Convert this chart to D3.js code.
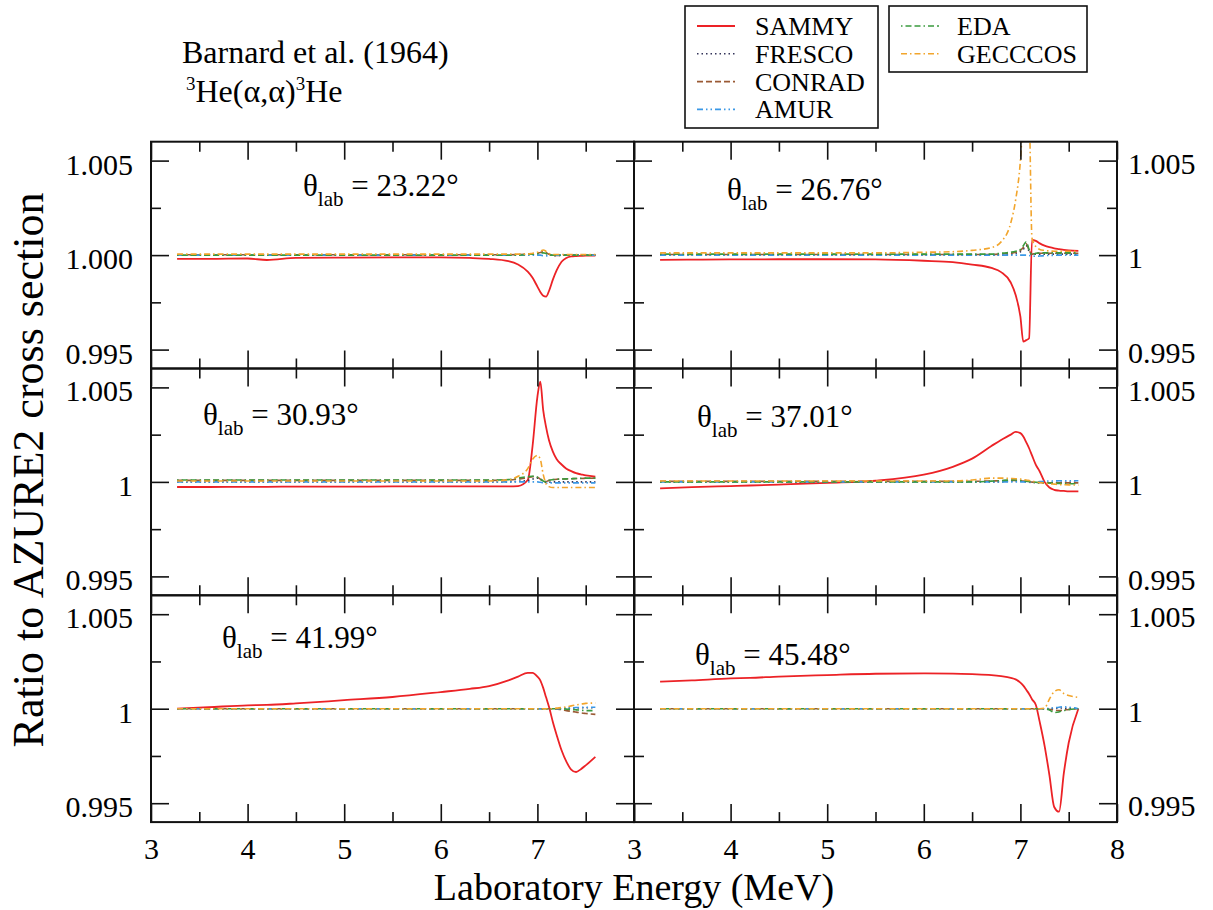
<!DOCTYPE html>
<html lang="en">
<head>
<meta charset="UTF-8">
<title>Ratio to AZURE2 cross section</title>
<style>
body { margin: 0; background: #fff; }
svg, svg text { font-family: 'Liberation Serif', 'Times New Roman', Times, 'DejaVu Serif', serif; }
text { fill: #000; }
.tick text { font-size: 30px; }
</style>
</head>
<body>
<svg width="1213" height="910"></svg>
<script src="https://cdnjs.cloudflare.com/ajax/libs/d3/7.8.5/d3.min.js"></script>
<script>

// laboratory energy grid (MeV), shared by every curve
var energy = [3.27, 3.6, 4.0, 4.2, 4.5, 5.0, 5.5, 6.0, 6.3, 6.5, 6.7, 6.8, 6.9, 6.95,
              7.0, 7.03, 7.06, 7.09, 7.12, 7.16, 7.2, 7.25, 7.3, 7.35, 7.4, 7.45, 7.5, 7.6];

var codes = ["SAMMY", "FRESCO", "CONRAD", "AMUR", "EDA", "GECCCOS"];

// ratio to AZURE2, one list per code and per angle
var theta2322 = {
  SAMMY:   [0.99980,0.99980,0.99982,0.99974,0.99985,0.99987,0.99988,0.99988,0.99985,0.99980,0.99968,0.99950,0.99912,0.99880,0.99833,0.99805,0.99785,0.99780,0.99810,0.99870,0.99920,0.99965,0.99985,0.99993,0.99995,0.99996,0.99997,0.99997],
  FRESCO:  [1,1,1,1,1,1,1,1,1,1,1,1.00002,1.00004,1.00006,1.00008,1.00012,1.00015,1.0001,1.00003,0.99998,0.99997,0.99998,1,1,1,1,1,1],
  CONRAD:  [1.00002,1.00002,1.00002,1.00002,1.00002,1.00002,1.00002,1.00002,1.00002,1.00002,1.00002,1.00003,1.00005,1.00007,1.0001,1.00014,1.00017,1.00012,1.00004,0.99999,0.99998,1,1.00001,1.00001,1.00001,1.00001,1.00001,1.00001],
  AMUR:    [1,1,1,1,1,1,1,1,1,1,1,1,1,1,1,1,0.99997,0.99996,0.99998,1,1,1,1,1,1,1,1,1],
  EDA:     [1,1,1,1,1,1,1,1,1,1,1,1,1.00003,1.00005,1.00007,1.0001,1.00012,1.00008,1.00002,1,1,1,1,1,1,1,1,1],
  GECCCOS: [1.00005,1.00005,1.00005,1.00005,1.00005,1.00005,1.00005,1.00005,1.00005,1.00005,1.00005,1.00005,1.00005,1.0001,1.00015,1.0002,1.00027,1.0002,1.00008,1.00003,1.00003,1.00003,1.00003,1.00003,1.00003,1.00003,1.00003,1.00003]
};
var theta2676 = {
  SAMMY:   [0.99975,0.99976,0.99977,0.99977,0.99978,0.99978,0.99977,0.99970,0.99963,0.99950,0.99932,0.99910,0.99855,0.99790,0.99674,0.99542,0.99550,0.99560,1.00080,1.00075,1.00062,1.00050,1.00042,1.00036,1.00032,1.00028,1.00025,1.00022],
  FRESCO:  [1,1,1,1,1,1,1,1,1,1,1,1,1.00005,1.0001,1.00018,1.0003,1.0005,1.0002,1.00003,1.00005,1.00005,1.00005,1.00005,1.00005,1.00005,1.00005,1.00005,1.00005],
  CONRAD:  [1.00003,1.00003,1.00003,1.00003,1.00003,1.00003,1.00003,1.00003,1.00003,1.00003,1.00003,1.00006,1.0001,1.00015,1.00025,1.0004,1.0006,1.00025,1.00005,1.0001,1.0001,1.0001,1.0001,1.0001,1.0001,1.0001,1.0001,1.0001],
  AMUR:    [1,1,1,1,1,1,1,1,1,1,1,1,1,1,1,1,1,0.99998,0.99995,0.99994,0.99995,0.99997,0.99998,0.99999,1,1,1,1],
  EDA:     [1.00005,1.00005,1.00005,1.00005,1.00005,1.00005,1.00005,1.00005,1.00005,1.00005,1.00005,1.0001,1.00015,1.0002,1.0003,1.0005,1.0007,1.0003,1.0000,1.0001,1.00012,1.00012,1.00012,1.00012,1.00012,1.00012,1.00012,1.00012],
  GECCCOS: [1.00012,1.00012,1.00012,1.00012,1.00012,1.00012,1.00012,1.00015,1.00018,1.00025,1.0004,1.0007,1.0017,1.0029,1.005,1.0075,1.0095,1.008,1.0009,1.00045,1.0003,1.00025,1.00022,1.0002,1.0002,1.0002,1.0002,1.0002]
};
var theta3093 = {
  SAMMY:   [0.99973,0.99973,0.99974,0.99974,0.99975,0.99975,0.99976,0.99976,0.99976,0.99976,0.99976,0.99978,1.0001,1.0019,1.0045,1.0053,1.0038,1.0029,1.0022,1.0016,1.0012,1.00092,1.0007,1.00057,1.00046,1.0004,1.00034,1.00028],
  FRESCO:  [1,1,1,1,1,1,1,1,1,1,1,1.00003,1.00008,1.00015,1.0002,1.00015,1.00005,0.99998,0.99998,1,1,1,1,1,1,1,1,1],
  CONRAD:  [1.00008,1.00008,1.00008,1.00008,1.00008,1.00008,1.00008,1.00008,1.00008,1.00008,1.0001,1.00015,1.00022,1.00028,1.00025,1.00015,1.00005,1.00002,1.00008,1.00012,1.00014,1.00015,1.00016,1.00017,1.00018,1.00018,1.00019,1.0002],
  AMUR:    [1,1,1,1,1,1,1,1,1,1,1,1,1,1,1,0.99998,0.99995,0.99993,0.99995,0.99995,0.99995,0.99995,0.99995,0.99995,0.99995,0.99995,0.99995,0.99995],
  EDA:     [1.0001,1.0001,1.0001,1.0001,1.0001,1.0001,1.0001,1.0001,1.0001,1.0001,1.00012,1.0002,1.00028,1.0003,1.00025,1.00015,1.00005,1.0,1.00008,1.00012,1.00014,1.00015,1.00016,1.00017,1.00018,1.00019,1.0002,1.0002],
  GECCCOS: [1.00005,1.00005,1.00005,1.00005,1.00005,1.00005,1.00005,1.00005,1.00005,1.00005,1.0001,1.0003,1.0007,1.0012,1.0014,1.0012,1.0004,0.9999,0.99975,0.9997,0.9997,0.9997,0.9997,0.9997,0.9997,0.9997,0.9997,0.9997]
};
var theta3701 = {
  SAMMY:   [0.99966,0.99972,0.99978,0.99981,0.99986,0.99995,1.00006,1.00038,1.0008,1.00123,1.0019,1.00222,1.0025,1.00265,1.00258,1.0024,1.0021,1.00178,1.0014,1.0009,1.00055,1.0,0.9997,0.99958,0.99954,0.99952,0.9995,0.9995],
  FRESCO:  [1,1,1,1,1,1,1,1,1,1,1,1,1.00005,1.00006,1.00005,1.00003,1.0,0.99998,0.99997,0.99996,0.99996,0.99996,0.99996,0.99997,0.99997,0.99998,0.99998,0.99998],
  CONRAD:  [1.00003,1.00003,1.00003,1.00003,1.00003,1.00003,1.00003,1.00003,1.00003,1.00003,1.00005,1.00006,1.00008,1.00008,1.00006,1.00004,1.00002,1.0,0.99999,0.99998,0.99997,0.99996,0.99995,0.99995,0.99995,0.99995,0.99995,0.99995],
  AMUR:    [1,1,1,1,1,1,1,1,1,1,1,1,1,1,1,1,1,1,1,1,1.00002,1.00004,1.00005,1.00005,1.00006,1.00006,1.00006,1.00006],
  EDA:     [1,1,1,1,1,1,1,1,1,1,1.00004,1.00007,1.0001,1.0001,1.00008,1.00006,1.00004,1.00002,1.0,0.99998,0.99996,0.99995,0.99994,0.99993,0.99992,0.99991,0.9999,0.9999],
  GECCCOS: [1.00005,1.00005,1.00005,1.00005,1.00005,1.00005,1.00005,1.00005,1.00005,1.0001,1.0002,1.0002,1.00018,1.00017,1.00015,1.00012,1.0001,1.00007,1.00004,1.0,0.99997,0.99994,0.9999,0.99988,0.99986,0.99985,0.99984,0.99983]
};
var theta4199 = {
  SAMMY:   [1.0,1.00008,1.00018,1.0002,1.00028,1.00045,1.00062,1.00088,1.00105,1.0012,1.0015,1.0017,1.0019,1.0019,1.0017,1.0015,1.0011,1.0006,1.0001,0.9993,0.9986,0.9978,0.9972,0.99678,0.99665,0.9968,0.997,0.99745],
  FRESCO:  [1,1,1,1,1,1,1,1,1,1,1,1,1,1,1,1,1,1,1,1,1,1,1.00002,1.00003,1.00004,1.00005,1.00005,1.00005],
  CONRAD:  [1,1,1,1,1,1,1,1,1,1,1,1,1,1,1,1,1,1,1,1,0.99998,0.99995,0.9999,0.99986,0.99982,0.99978,0.99975,0.9997],
  AMUR:    [1,1,1,1,1,1,1,1,1,1,1,1,1,1,1,1,1,1,1,1,1,1,1.00002,1.00004,1.00006,1.00007,1.00008,1.00008],
  EDA:     [1,1,1,1,1,1,1,1,1,1,1,1,1,1,1,1,1,1,1,1,1,1,0.99998,0.99996,0.99994,0.99992,0.9999,0.9999],
  GECCCOS: [1,1,1,1,1,1,1,1,1,1,1,1,1,1,1,1,1,1,1,1,1.00003,1.00006,1.0001,1.00015,1.0002,1.00024,1.00028,1.0003]
};
var theta4548 = {
  SAMMY:   [1.00143,1.0015,1.0016,1.00163,1.0017,1.00178,1.00185,1.00187,1.00186,1.00183,1.00178,1.00172,1.00163,1.00155,1.00138,1.00122,1.001,1.00078,1.0005,1.0002,0.9993,0.99805,0.9965,0.9948,0.99455,0.9966,0.9982,1.0],
  FRESCO:  [1,1,1,1,1,1,1,1,1,1,1,1,1,1,1,1,1,1,1,1,1,1,1,1.00002,1.00004,1.00003,1.00002,1.0],
  CONRAD:  [1,1,1,1,1,1,1,1,1,1,1,1,1,1,1,1,1,1,1,1,1,1,0.99997,0.99993,0.9999,0.99993,0.99996,1.0],
  AMUR:    [1,1,1,1,1,1,1,1,1,1,1,1,1,1,1,1,1,1,1,1,1,1,1.00002,1.00005,1.00008,1.0001,1.00008,1.0],
  EDA:     [1,1,1,1,1,1,1,1,1,1,1,1,1,1,1,1,1,1,1,1,1,1,0.99993,0.9998,0.99983,0.9999,0.99995,1.0],
  GECCCOS: [1,1,1,1,1,1,1,1,1,1,1,1,1,1,1,1,1,1,1,1,1,1.00003,1.0005,1.0009,1.001,1.0008,1.0007,1.0006]
};

var xTicks = [3, 4, 5, 6, 7, 8];
var xMinor = [3.5, 4.5, 5.5, 6.5, 7.5];
var yTicks = [0.995, 1.0, 1.005];
var yMinor = [0.9975, 1.0025];

var styles = {
  SAMMY:   { color: "#ec2226", dash: null,                 width: 1.8 },
  FRESCO:  { color: "#34345a", dash: "1.5,3",              width: 1.6 },
  CONRAD:  { color: "#9a5a34", dash: "6,3",                width: 1.6 },
  AMUR:    { color: "#3a98e6", dash: "6,3,1.5,3,1.5,3",    width: 1.6 },
  EDA:     { color: "#3a9a3e", dash: "1.5,3,6,3,6,3",      width: 1.6 },
  GECCCOS: { color: "#f2a52c", dash: "6,3,1.5,3",          width: 1.6 }
};

var panels = [
  { col: 0, row: 0, data: theta2322, angle: "23.22", lx: 303, ly: 196 },
  { col: 1, row: 0, data: theta2676, angle: "26.76", lx: 727, ly: 200 },
  { col: 0, row: 1, data: theta3093, angle: "30.93", lx: 203, ly: 425 },
  { col: 1, row: 1, data: theta3701, angle: "37.01", lx: 697, ly: 427 },
  { col: 0, row: 2, data: theta4199, angle: "41.99", lx: 222, ly: 648 },
  { col: 1, row: 2, data: theta4548, angle: "45.48", lx: 695, ly: 665 }
];

var serif = "'Liberation Serif', 'Times New Roman', Times, 'DejaVu Serif', serif";
var svg = d3.select("svg").attr("font-family", serif);
var plotLeft = 151, panelW = 483, plotTop = 141.7, panelH = 226.8;
var major = 18, minor = 10;

function tidy(g) {
  g.select(".domain").remove();
  g.attr("font-size", null).attr("font-family", serif);
  g.selectAll(".tick line").attr("stroke", "#111").attr("stroke-width", 1.6);
  g.selectAll("text").attr("font-family", serif);
  return g;
}

panels.forEach(function(p, i) {
  var x0 = plotLeft + p.col * panelW;
  var y0 = plotTop + p.row * panelH;
  var x = d3.scaleLinear().domain([3, 8]).range([x0, x0 + panelW]);
  var y = d3.scaleLinear().domain([0.994, 1.006]).range([y0 + panelH, y0]);

  svg.append("clipPath").attr("id", "clip" + i)
    .append("rect").attr("x", x0).attr("y", y0).attr("width", panelW).attr("height", panelH);

  var line = d3.line()
    .x(function(d, k) { return x(energy[k]); })
    .y(function(d) { return y(d); })
    .curve(d3.curveMonotoneX);

  var lines = svg.append("g").attr("clip-path", "url(#clip" + i + ")");
  codes.forEach(function(c) {
    lines.append("path")
      .datum(p.data[c])
      .attr("d", line)
      .attr("fill", "none")
      .attr("stroke", styles[c].color)
      .attr("stroke-width", styles[c].width)
      .attr("stroke-dasharray", styles[c].dash);
  });

  var bottomRow = p.row === 2;
  var bottom = d3.axisBottom(x).tickValues(xTicks).tickSize(-major).tickPadding(16)
    .tickFormat(function(d) { return bottomRow && !(p.col === 0 && d === 8) ? d : ""; });
  tidy(svg.append("g").attr("transform", "translate(0," + (y0 + panelH) + ")").call(bottom));
  tidy(svg.append("g").attr("transform", "translate(0," + (y0 + panelH) + ")")
    .call(d3.axisBottom(x).tickValues(xMinor).tickSize(-minor).tickFormat("")));
  tidy(svg.append("g").attr("transform", "translate(0," + y0 + ")")
    .call(d3.axisTop(x).tickValues(xTicks).tickSize(-major).tickFormat("")));
  tidy(svg.append("g").attr("transform", "translate(0," + y0 + ")")
    .call(d3.axisTop(x).tickValues(xMinor).tickSize(-minor).tickFormat("")));

  var leftFmt = function(d) {
    if (p.col !== 0) return "";
    if (d === 1.0) return p.row === 0 ? "1.000" : "1";
    return d3.format(".3f")(d);
  };
  var rightFmt = function(d) {
    if (p.col !== 1) return "";
    return d === 1.0 ? "1" : d3.format(".3f")(d);
  };
  var gl = tidy(svg.append("g").attr("transform", "translate(" + x0 + ",0)")
    .call(d3.axisLeft(y).tickValues(yTicks).tickSize(-major).tickPadding(18).tickFormat(leftFmt)));
  gl.selectAll("text").attr("dy", "0.45em");
  tidy(svg.append("g").attr("transform", "translate(" + x0 + ",0)")
    .call(d3.axisLeft(y).tickValues(yMinor).tickSize(-minor).tickFormat("")));
  var gr = tidy(svg.append("g").attr("transform", "translate(" + (x0 + panelW) + ",0)")
    .call(d3.axisRight(y).tickValues(yTicks).tickSize(-major).tickPadding(11).tickFormat(rightFmt)));
  gr.selectAll("text").attr("dy", "0.42em");
  tidy(svg.append("g").attr("transform", "translate(" + (x0 + panelW) + ",0)")
    .call(d3.axisRight(y).tickValues(yMinor).tickSize(-minor).tickFormat("")));

  svg.append("rect")
    .attr("x", x0).attr("y", y0).attr("width", panelW).attr("height", panelH)
    .attr("fill", "none").attr("stroke", "#111").attr("stroke-width", 2);

  var lab = svg.append("text").attr("x", p.lx).attr("y", p.ly)
    .attr("font-family", serif).style("font-size", "31px").style("white-space", "pre");
  lab.append("tspan").text("\u03b8");
  lab.append("tspan").text("lab").style("font-size", "21px").attr("dy", 10);
  lab.append("tspan").text(" = " + p.angle + "\u00b0").attr("dy", -10);
});

// axis titles
svg.append("text")
  .attr("x", plotLeft + panelW).attr("y", 900).attr("font-family", serif)
  .attr("text-anchor", "middle").style("font-size", "38px")
  .text("Laboratory Energy (MeV)");

svg.append("text")
  .attr("transform", "translate(43,470) rotate(-90)").attr("font-family", serif)
  .attr("text-anchor", "middle").style("font-size", "44px")
  .text("Ratio to AZURE2 cross section");

// data set title
svg.append("text").attr("x", 182).attr("y", 63).attr("font-family", serif).style("font-size", "32px")
  .text("Barnard et al. (1964)");
var reac = svg.append("text").attr("x", 186).attr("y", 102).attr("font-family", serif).style("font-size", "32px");
reac.append("tspan").text("3").style("font-size", "19px").attr("dy", -12);
reac.append("tspan").text("He(\u03b1,\u03b1)").attr("dy", 12);
reac.append("tspan").text("3").style("font-size", "19px").attr("dy", -12);
reac.append("tspan").text("He").attr("dy", 12);

// legends
var legendBoxes = [
  { x: 685, y: 6, w: 193, h: 122, items: ["SAMMY", "FRESCO", "CONRAD", "AMUR"], lx: 697, tx: 755 },
  { x: 889, y: 6, w: 198, h: 66, items: ["EDA", "GECCCOS"], lx: 901, tx: 957 }
];
legendBoxes.forEach(function(b) {
  svg.append("rect").attr("x", b.x).attr("y", b.y).attr("width", b.w).attr("height", b.h)
    .attr("fill", "#fff").attr("stroke", "#111").attr("stroke-width", 1.6);
  b.items.forEach(function(c, k) {
    var base = 35 + k * 27.8;
    svg.append("line")
      .attr("x1", b.lx).attr("x2", b.lx + 38).attr("y1", base - 9).attr("y2", base - 9)
      .attr("stroke", styles[c].color).attr("stroke-width", styles[c].width)
      .attr("stroke-dasharray", styles[c].dash);
    svg.append("text").attr("x", b.tx).attr("y", base).attr("font-family", serif)
      .style("font-size", "26px").text(c);
  });
});

</script>
</body>
</html>
